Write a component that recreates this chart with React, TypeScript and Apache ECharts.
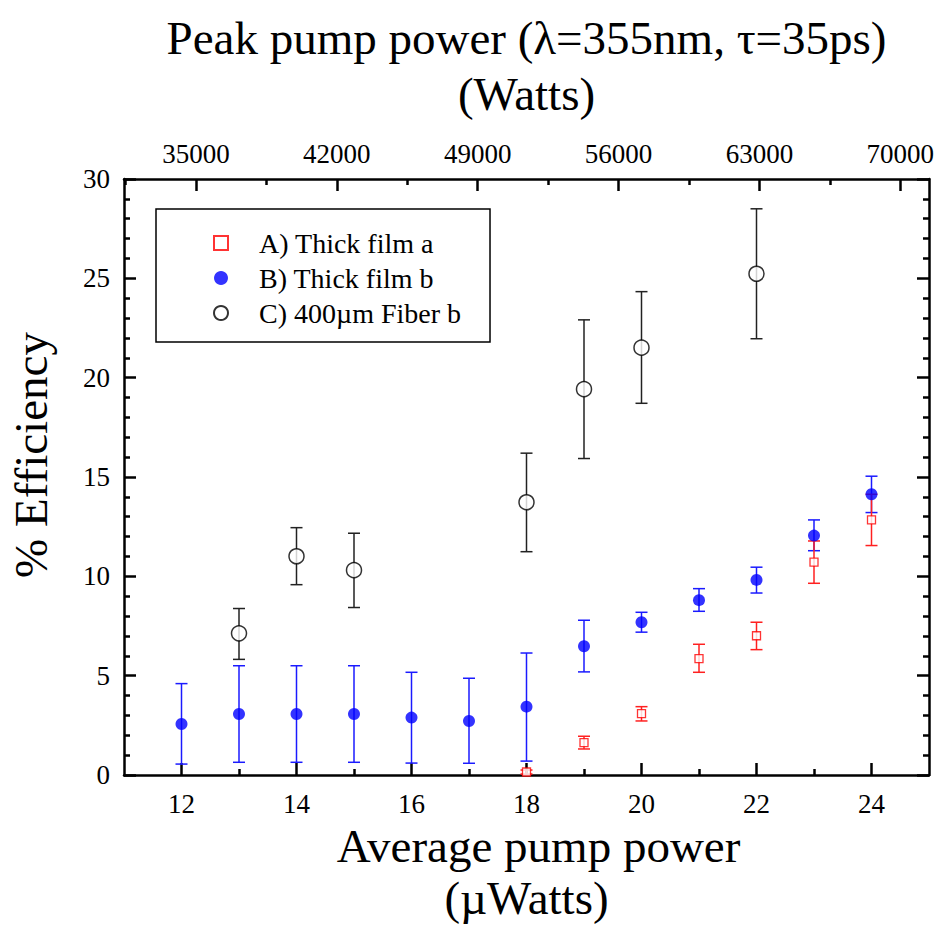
import React, { useEffect, useRef } from "react";
import * as echarts from "echarts";

// Average pump power (µW) for each series
const xA = [18, 19, 20, 21, 22, 23, 24];
const yA = [0.15, 1.63, 3.09, 5.86, 7.01, 10.72, 12.84];
const lowA = [0.05, 1.31, 2.72, 5.17, 6.31, 9.65, 11.55];
const highA = [0.25, 1.95, 3.44, 6.58, 7.69, 11.78, 14.13];

const xB = [12, 13, 14, 15, 16, 17, 18, 19, 20, 21, 22, 23, 24];
const yB = [2.57, 3.07, 3.07, 3.07, 2.89, 2.72, 3.44, 6.48, 7.69, 8.8, 9.82, 12.05, 14.13];
const lowB = [0.55, 0.64, 0.64, 0.64, 0.6, 0.59, 0.7, 5.19, 7.19, 8.24, 9.16, 11.29, 13.21];
const highB = [4.6, 5.5, 5.5, 5.5, 5.17, 4.87, 6.14, 7.79, 8.19, 9.38, 10.46, 12.84, 15.04];

const xC = [13, 14, 15, 18, 19, 20, 22];
const yC = [7.13, 11.01, 10.31, 13.73, 19.42, 21.51, 25.23];
const lowC = [5.82, 9.58, 8.43, 11.24, 15.93, 18.71, 21.96];
const highC = [8.38, 12.45, 12.17, 16.2, 22.91, 24.33, 28.5];

const seriesNames = ["A) Thick film a", "B) Thick film b", "C) 400µm Fiber b"];

const bottomMajor = [12, 14, 16, 18, 20, 22, 24];
const bottomMinor = [13, 15, 17, 19, 21, 23];
const topMajor = [35000, 42000, 49000, 56000, 63000, 70000];
const topMinor = [31500, 38500, 45500, 52500, 59500, 66500];
const peakPerAvg = 20000 / 7; // W of peak power per µW of average power

const FONT = "Liberation Serif";

export default function App() {
  const ref = useRef<HTMLDivElement>(null);

  useEffect(() => {
    if (!ref.current) return;
    const chart = echarts.init(ref.current, null, { renderer: "svg" });

    const xMin = 11;
    const xMax = 25;

    const errSeries = (name: string, xs: number[], lo: number[], hi: number[], color: string) => ({
      type: "custom",
      name: name + " err",
      xAxisIndex: 0,
      yAxisIndex: 0,
      data: xs.map((x, i) => [x, lo[i], hi[i]]),
      encode: { x: 0, y: [1, 2] },
      silent: true,
      z: 2,
      renderItem: (params: any, api: any) => {
        const x = api.value(0);
        const p1 = api.coord([x, api.value(1)]);
        const p2 = api.coord([x, api.value(2)]);
        const w = 6;
        const st = { stroke: color, lineWidth: 1.5 };
        return {
          type: "group",
          children: [
            { type: "line", shape: { x1: p1[0], y1: p1[1], x2: p2[0], y2: p2[1] }, style: st },
            { type: "line", shape: { x1: p1[0] - w, y1: p1[1], x2: p1[0] + w, y2: p1[1] }, style: st },
            { type: "line", shape: { x1: p2[0] - w, y1: p2[1], x2: p2[0] + w, y2: p2[1] }, style: st },
          ],
        };
      },
    });

    const axisLine = { show: true, lineStyle: { color: "#000", width: 2.5 } };
    const labelStyle = { color: "#000", fontFamily: FONT, fontSize: 27 };
    const nameStyle = { fontFamily: FONT, fontSize: 47, color: "#000", lineHeight: 56 };
    const bottomNameStyle = { fontFamily: FONT, fontSize: 47, color: "#000", lineHeight: 52 };

    const option: any = {
      animation: false,
      backgroundColor: "#fff",
      textStyle: { fontFamily: FONT },
      grid: { left: 124, top: 179, width: 805, height: 596, containLabel: false, outerBoundsMode: "none" },
      legend: {
        show: true,
        data: seriesNames,
        orient: "vertical",
        left: 156,
        top: 209,
        selectedMode: false,
        borderColor: "#000",
        borderWidth: 1.5,
        padding: [20, 29, 15, 57],
        itemGap: 7,
        itemWidth: 14,
        itemHeight: 14,
        formatter: (name: string) => `{t|${name}}`,
        textStyle: {
          fontFamily: FONT,
          fontSize: 28,
          color: "#000",
          rich: { t: { fontFamily: FONT, fontSize: 28, color: "#000", lineHeight: 28, padding: [0, 0, 0, 26] } },
        },
      },
      xAxis: [
        {
          type: "value",
          position: "bottom",
          min: xMin,
          max: xMax,
          axisLine,
          splitLine: { show: false },
          axisTick: { show: true, inside: true, length: 12, customValues: bottomMajor, lineStyle: { width: 2.5, color: "#000" } },
          axisLabel: { ...labelStyle, lineHeight: 22, customValues: bottomMajor, margin: 18 },
          name: "{a|Average pump power}\n{b|(µWatts)}",
          nameLocation: "middle",
          nameGap: 45,
          nameMoveOverlap: false,
          nameTextStyle: {
            ...bottomNameStyle,
            rich: {
              a: { ...bottomNameStyle, padding: [0, 0, 0, 24] },
              b: { ...bottomNameStyle },
            },
          },
        },
        {
          type: "value",
          position: "bottom",
          min: xMin,
          max: xMax,
          axisLine: { show: false },
          splitLine: { show: false },
          axisTick: { show: true, inside: true, length: 6, customValues: bottomMinor, lineStyle: { width: 2.5, color: "#000" } },
          axisLabel: { show: false },
        },
        {
          type: "value",
          position: "top",
          min: xMin * peakPerAvg,
          max: xMax * peakPerAvg,
          axisLine,
          splitLine: { show: false },
          axisTick: { show: true, inside: true, length: 12, customValues: topMajor, lineStyle: { width: 2.5, color: "#000" } },
          axisLabel: { ...labelStyle, customValues: topMajor, margin: 12, formatter: (v: number) => String(Math.round(v)) },
          name: "Peak pump power (λ=355nm, τ=35ps)\n(Watts)",
          nameLocation: "middle",
          nameGap: 57,
          nameTextStyle: nameStyle,
        },
        {
          type: "value",
          position: "top",
          min: xMin * peakPerAvg,
          max: xMax * peakPerAvg,
          axisLine: { show: false },
          splitLine: { show: false },
          axisTick: { show: true, inside: true, length: 6, customValues: topMinor, lineStyle: { width: 2.5, color: "#000" } },
          axisLabel: { show: false },
        },
      ],
      yAxis: [
        {
          type: "value",
          position: "left",
          min: 0,
          max: 30,
          interval: 5,
          axisLine,
          splitLine: { show: false },
          axisTick: { show: true, inside: true, length: 12, lineStyle: { width: 2.5, color: "#000" } },
          minorTick: { show: true, splitNumber: 5, length: 6, lineStyle: { width: 2.5, color: "#000" } },
          minorSplitLine: { show: false },
          axisLabel: { ...labelStyle, margin: 14 },
          name: "% Efficiency",
          nameLocation: "middle",
          nameGap: 70,
          nameTextStyle: { fontFamily: FONT, fontSize: 47, color: "#000", padding: [0, 0, 0, 44] },
        },
        {
          type: "value",
          position: "right",
          min: 0,
          max: 30,
          interval: 5,
          axisLine,
          splitLine: { show: false },
          axisTick: { show: true, inside: true, length: 12, lineStyle: { width: 2.5, color: "#000" } },
          minorTick: { show: true, splitNumber: 5, length: 6, lineStyle: { width: 2.5, color: "#000" } },
          minorSplitLine: { show: false },
          axisLabel: { show: false },
        },
      ],
      series: [
        errSeries(seriesNames[2], xC, lowC, highC, "#222"),
        errSeries(seriesNames[1], xB, lowB, highB, "#1a1aff"),
        errSeries(seriesNames[0], xA, lowA, highA, "#ff2020"),
        {
          type: "scatter",
          name: seriesNames[2],
          data: xC.map((x, i) => [x, yC[i]]),
          symbol: "circle",
          symbolSize: 15,
          itemStyle: { color: "#fff", borderColor: "#000", borderWidth: 1.5 },
          z: 3,
        },
        {
          type: "scatter",
          name: seriesNames[1],
          data: xB.map((x, i) => [x, yB[i]]),
          symbol: "circle",
          symbolSize: 12,
          itemStyle: { color: "#0000ff" },
          z: 3,
        },
        {
          type: "scatter",
          name: seriesNames[0],
          data: xA.map((x, i) => [x, yA[i]]),
          symbol: "rect",
          symbolSize: 8,
          itemStyle: { color: "#fff", borderColor: "#ff0000", borderWidth: 1.3 },
          z: 3,
        },
      ],
    };

    chart.setOption(option);
    return () => chart.dispose();
  }, []);

  return (
    <div
      ref={ref}
      style={{ position: "absolute", left: 0, top: 0, width: 940, height: 925, background: "#fff" }}
    />
  );
}
